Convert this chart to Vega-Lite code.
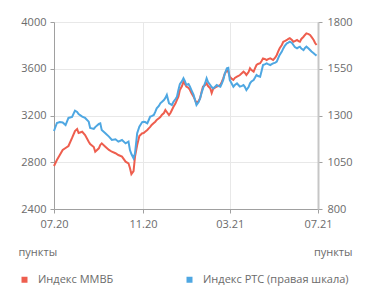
{
  "$schema": "https://vega.github.io/schema/vega-lite/v6.json",
  "width": 264,
  "height": 187,
  "autosize": {"type": "none"},
  "padding": {"left": 54, "top": 22, "right": 53, "bottom": 94},
  "background": "#ffffff",
  "config": {
    "font": "Open Sans",
    "view": {"stroke": null},
    "axis": {
      "labelColor": "#6b6b6b",
      "labelFontSize": 11,
      "titleColor": "#6b6b6b",
      "titleFontSize": 11,
      "titleFontWeight": "normal",
      "gridColor": "#e8e8e8",
      "tickColor": "#a0a0a0",
      "domainColor": "#a0a0a0",
      "tickSize": 4
    }
  },
  "data": {
    "values": [
      {"d": "2020-07-01", "m": 2768, "r": 1217},
      {"d": "2020-07-05", "m": 2819, "r": 1260},
      {"d": "2020-07-09", "m": 2862, "r": 1265},
      {"d": "2020-07-13", "m": 2905, "r": 1263},
      {"d": "2020-07-17", "m": 2922, "r": 1249},
      {"d": "2020-07-21", "m": 2939, "r": 1287},
      {"d": "2020-07-26", "m": 3008, "r": 1292},
      {"d": "2020-07-30", "m": 3067, "r": 1326},
      {"d": "2020-08-02", "m": 3085, "r": 1319},
      {"d": "2020-08-04", "m": 3050, "r": 1308},
      {"d": "2020-08-09", "m": 3061, "r": 1294},
      {"d": "2020-08-13", "m": 3033, "r": 1287},
      {"d": "2020-08-18", "m": 2976, "r": 1267},
      {"d": "2020-08-20", "m": 2956, "r": 1233},
      {"d": "2020-08-25", "m": 2930, "r": 1228},
      {"d": "2020-08-27", "m": 2890, "r": 1238},
      {"d": "2020-09-01", "m": 2919, "r": 1255},
      {"d": "2020-09-03", "m": 2948, "r": 1258},
      {"d": "2020-09-05", "m": 2962, "r": 1222},
      {"d": "2020-09-10", "m": 2933, "r": 1205},
      {"d": "2020-09-15", "m": 2905, "r": 1187},
      {"d": "2020-09-19", "m": 2890, "r": 1169},
      {"d": "2020-09-24", "m": 2877, "r": 1173},
      {"d": "2020-09-28", "m": 2862, "r": 1160},
      {"d": "2020-10-03", "m": 2848, "r": 1169},
      {"d": "2020-10-08", "m": 2805, "r": 1151},
      {"d": "2020-10-12", "m": 2791, "r": 1160},
      {"d": "2020-10-14", "m": 2751, "r": 1115},
      {"d": "2020-10-16", "m": 2699, "r": 1094},
      {"d": "2020-10-19", "m": 2725, "r": 1071},
      {"d": "2020-10-21", "m": 2848, "r": 1098},
      {"d": "2020-10-24", "m": 2948, "r": 1205},
      {"d": "2020-10-27", "m": 3025, "r": 1240},
      {"d": "2020-10-31", "m": 3048, "r": 1265},
      {"d": "2020-11-02", "m": 3050, "r": 1267},
      {"d": "2020-11-04", "m": 3061, "r": 1265},
      {"d": "2020-11-07", "m": 3076, "r": 1258},
      {"d": "2020-11-09", "m": 3090, "r": 1276},
      {"d": "2020-11-11", "m": 3102, "r": 1294},
      {"d": "2020-11-13", "m": 3119, "r": 1297},
      {"d": "2020-11-16", "m": 3136, "r": 1303},
      {"d": "2020-11-18", "m": 3147, "r": 1319},
      {"d": "2020-11-20", "m": 3162, "r": 1338},
      {"d": "2020-11-23", "m": 3176, "r": 1351},
      {"d": "2020-11-25", "m": 3187, "r": 1365},
      {"d": "2020-11-27", "m": 3204, "r": 1372},
      {"d": "2020-11-30", "m": 3221, "r": 1383},
      {"d": "2020-12-02", "m": 3247, "r": 1394},
      {"d": "2020-12-04", "m": 3230, "r": 1410},
      {"d": "2020-12-07", "m": 3204, "r": 1365},
      {"d": "2020-12-09", "m": 3221, "r": 1361},
      {"d": "2020-12-11", "m": 3247, "r": 1356},
      {"d": "2020-12-13", "m": 3273, "r": 1372},
      {"d": "2020-12-16", "m": 3304, "r": 1388},
      {"d": "2020-12-18", "m": 3333, "r": 1400},
      {"d": "2020-12-20", "m": 3361, "r": 1436},
      {"d": "2020-12-22", "m": 3418, "r": 1468},
      {"d": "2020-12-25", "m": 3452, "r": 1484},
      {"d": "2020-12-27", "m": 3489, "r": 1499},
      {"d": "2020-12-29", "m": 3470, "r": 1484},
      {"d": "2020-12-31", "m": 3447, "r": 1463},
      {"d": "2021-01-03", "m": 3435, "r": 1468},
      {"d": "2021-01-05", "m": 3418, "r": 1454},
      {"d": "2021-01-07", "m": 3393, "r": 1436},
      {"d": "2021-01-10", "m": 3361, "r": 1410},
      {"d": "2021-01-12", "m": 3333, "r": 1383},
      {"d": "2021-01-14", "m": 3304, "r": 1356},
      {"d": "2021-01-17", "m": 3324, "r": 1372},
      {"d": "2021-01-19", "m": 3347, "r": 1392},
      {"d": "2021-01-21", "m": 3401, "r": 1420},
      {"d": "2021-01-23", "m": 3447, "r": 1445},
      {"d": "2021-01-26", "m": 3461, "r": 1474},
      {"d": "2021-01-28", "m": 3476, "r": 1499},
      {"d": "2021-01-30", "m": 3452, "r": 1479},
      {"d": "2021-02-02", "m": 3433, "r": 1463},
      {"d": "2021-02-04", "m": 3392, "r": 1452},
      {"d": "2021-02-06", "m": 3427, "r": 1445},
      {"d": "2021-02-09", "m": 3440, "r": 1455},
      {"d": "2021-02-11", "m": 3447, "r": 1463},
      {"d": "2021-02-13", "m": 3452, "r": 1458},
      {"d": "2021-02-16", "m": 3461, "r": 1454},
      {"d": "2021-02-18", "m": 3487, "r": 1471},
      {"d": "2021-02-20", "m": 3518, "r": 1490},
      {"d": "2021-02-22", "m": 3555, "r": 1522},
      {"d": "2021-02-25", "m": 3589, "r": 1552},
      {"d": "2021-02-27", "m": 3572, "r": 1555},
      {"d": "2021-03-01", "m": 3532, "r": 1490},
      {"d": "2021-03-04", "m": 3513, "r": 1468},
      {"d": "2021-03-06", "m": 3504, "r": 1454},
      {"d": "2021-03-08", "m": 3521, "r": 1463},
      {"d": "2021-03-11", "m": 3532, "r": 1472},
      {"d": "2021-03-13", "m": 3538, "r": 1463},
      {"d": "2021-03-15", "m": 3547, "r": 1454},
      {"d": "2021-03-18", "m": 3564, "r": 1458},
      {"d": "2021-03-20", "m": 3575, "r": 1463},
      {"d": "2021-03-22", "m": 3564, "r": 1452},
      {"d": "2021-03-24", "m": 3547, "r": 1436},
      {"d": "2021-03-27", "m": 3572, "r": 1452},
      {"d": "2021-03-29", "m": 3604, "r": 1472},
      {"d": "2021-03-31", "m": 3589, "r": 1482},
      {"d": "2021-04-03", "m": 3575, "r": 1490},
      {"d": "2021-04-05", "m": 3606, "r": 1503},
      {"d": "2021-04-07", "m": 3632, "r": 1517},
      {"d": "2021-04-09", "m": 3641, "r": 1511},
      {"d": "2021-04-12", "m": 3647, "r": 1507},
      {"d": "2021-04-14", "m": 3666, "r": 1538},
      {"d": "2021-04-16", "m": 3689, "r": 1570},
      {"d": "2021-04-19", "m": 3683, "r": 1575},
      {"d": "2021-04-21", "m": 3675, "r": 1579},
      {"d": "2021-04-23", "m": 3683, "r": 1575},
      {"d": "2021-04-26", "m": 3689, "r": 1570},
      {"d": "2021-04-28", "m": 3683, "r": 1575},
      {"d": "2021-04-30", "m": 3675, "r": 1579},
      {"d": "2021-05-03", "m": 3696, "r": 1583},
      {"d": "2021-05-05", "m": 3718, "r": 1588},
      {"d": "2021-05-07", "m": 3748, "r": 1607},
      {"d": "2021-05-09", "m": 3775, "r": 1624},
      {"d": "2021-05-12", "m": 3803, "r": 1642},
      {"d": "2021-05-14", "m": 3831, "r": 1659},
      {"d": "2021-05-16", "m": 3837, "r": 1672},
      {"d": "2021-05-19", "m": 3846, "r": 1686},
      {"d": "2021-05-21", "m": 3855, "r": 1690},
      {"d": "2021-05-23", "m": 3861, "r": 1695},
      {"d": "2021-05-26", "m": 3846, "r": 1688},
      {"d": "2021-05-28", "m": 3831, "r": 1677},
      {"d": "2021-05-30", "m": 3837, "r": 1666},
      {"d": "2021-06-02", "m": 3846, "r": 1659},
      {"d": "2021-06-04", "m": 3837, "r": 1664},
      {"d": "2021-06-06", "m": 3831, "r": 1668},
      {"d": "2021-06-08", "m": 3855, "r": 1658},
      {"d": "2021-06-11", "m": 3874, "r": 1650},
      {"d": "2021-06-13", "m": 3889, "r": 1661},
      {"d": "2021-06-15", "m": 3903, "r": 1668},
      {"d": "2021-06-18", "m": 3897, "r": 1658},
      {"d": "2021-06-20", "m": 3889, "r": 1650},
      {"d": "2021-06-22", "m": 3872, "r": 1642},
      {"d": "2021-06-25", "m": 3846, "r": 1633},
      {"d": "2021-06-27", "m": 3820, "r": 1626},
      {"d": "2021-06-29", "m": 3803, "r": 1620}
    ]
  },
  "encoding": {
    "x": {
      "field": "d",
      "type": "temporal",
      "scale": {
        "type": "utc",
        "domain": [
          {"year": 2020, "month": 7, "date": 1, "utc": true},
          {"year": 2021, "month": 7, "date": 1, "utc": true}
        ]
      },
      "axis": {
        "title": null,
        "format": "%m.%y",
        "values": [
          {"year": 2020, "month": 7, "date": 1, "utc": true},
          {"year": 2020, "month": 11, "date": 1, "utc": true},
          {"year": 2021, "month": 3, "date": 1, "utc": true},
          {"year": 2021, "month": 7, "date": 1, "utc": true}
        ],
        "grid": true,
        "labelPadding": 5,
        "labelFlush": false
      }
    }
  },
  "layer": [
    {
      "mark": {"type": "line", "strokeWidth": 2, "interpolate": "linear"},
      "encoding": {
        "y": {
          "field": "m",
          "type": "quantitative",
          "scale": {"domain": [2400, 4000], "nice": false, "zero": false},
          "axis": {
            "orient": "left",
            "values": [2400, 2800, 3200, 3600, 4000],
            "format": "d",
            "grid": true,
            "labelPadding": 4,
            "title": "пункты",
            "titleAngle": 0,
            "titleAlign": "left",
            "titleBaseline": "middle",
            "titleX": -36,
            "titleY": 230
          }
        },
        "color": {
          "datum": "Индекс ММВБ",
          "scale": {
            "domain": ["Индекс ММВБ", "Индекс РТС (правая шкала)"],
            "range": ["#ee5e4e", "#4ea7e2"]
          },
          "legend": {
            "title": null,
            "orient": "none",
            "direction": "horizontal",
            "legendX": -35,
            "legendY": 252,
            "padding": 0,
            "symbolType": "square",
            "symbolSize": 36,
            "symbolStrokeWidth": 0,
            "labelFontSize": 11,
            "labelColor": "#6b6b6b",
            "labelOffset": 8,
            "columnPadding": 70,
            "encode": {
              "symbols": {"update": {"fill": {"scale": "color", "field": "value"}, "strokeWidth": {"value": 0}}}
            }
          }
        }
      }
    },
    {
      "mark": {"type": "line", "strokeWidth": 2, "interpolate": "linear"},
      "encoding": {
        "y": {
          "field": "r",
          "type": "quantitative",
          "scale": {"domain": [800, 1800], "nice": false, "zero": false},
          "axis": {
            "orient": "right",
            "values": [800, 1050, 1300, 1550, 1800],
            "format": "d",
            "grid": false,
            "labelPadding": 5,
            "domainColor": "#c6c6c6",
            "domainWidth": 2,
            "title": "пункты",
            "titleAngle": 0,
            "titleAlign": "right",
            "titleBaseline": "middle",
            "titleX": 34,
            "titleY": 230
          }
        },
        "color": {"datum": "Индекс РТС (правая шкала)"}
      }
    }
  ],
  "resolve": {"scale": {"y": "independent"}}
}
